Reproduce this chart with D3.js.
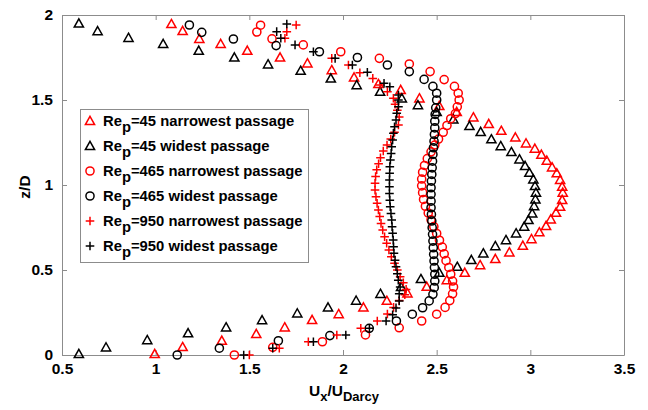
<!DOCTYPE html>
<html lang="en">
  <head>
    <meta charset="UTF-8" />
    <title>Velocity profiles</title>
    <script src="https://d3js.org/d3.v7.min.js"></script>
    <style>
      body {
        margin: 0;
        background: #fff;
      }
      * {
        font-family: "Liberation Sans", Arial, sans-serif;
      }
      .tick text {
        font-size: 15.5px;
        font-weight: bold;
        fill: #000;
      }
      .axis path,
      .axis line {
        stroke: #8c8c8c;
      }
      .legend-text {
        font-size: 14.8px;
        font-weight: bold;
      }
      .title {
        font-size: 15.5px;
        font-weight: bold;
      }
    </style>
  </head>
  <body></body>
  <script>
    // [U_x/U_Darcy, z/D]
    const re45Narrow = [
      [0.995, 0.006], [1.144, 0.047], [1.353, 0.084], [1.537, 0.124], [1.689, 0.163],
      [1.835, 0.206], [1.977, 0.241], [2.109, 0.28], [2.234, 0.319], [2.344, 0.363],
      [2.447, 0.402], [2.554, 0.441], [2.65, 0.484], [2.732, 0.529], [2.813, 0.565],
      [2.888, 0.604], [2.96, 0.643], [3.006, 0.682], [3.048, 0.722], [3.084, 0.759],
      [3.109, 0.798], [3.137, 0.837], [3.159, 0.872], [3.17, 0.912], [3.173, 0.955],
      [3.17, 0.99], [3.159, 1.03], [3.141, 1.069], [3.116, 1.104], [3.088, 1.143],
      [3.059, 1.178], [3.024, 1.214], [2.977, 1.245], [2.92, 1.28], [2.845, 1.319],
      [2.778, 1.359], [2.696, 1.398], [2.607, 1.43], [2.514, 1.465], [2.408, 1.51],
      [2.308, 1.559], [2.189, 1.594], [2.059, 1.633], [1.94, 1.676], [1.81, 1.716],
      [1.664, 1.75], [1.489, 1.79], [1.347, 1.83], [1.233, 1.86], [1.144, 1.906],
      [1.084, 1.947]
    ];
    const re45Wide = [
      [0.59, 0.006], [0.735, 0.045], [0.955, 0.088], [1.173, 0.128], [1.376, 0.163],
      [1.568, 0.205], [1.756, 0.245], [1.92, 0.28], [2.07, 0.32], [2.2, 0.36],
      [2.31, 0.4], [2.416, 0.447], [2.514, 0.484], [2.61, 0.519], [2.685, 0.559],
      [2.749, 0.598], [2.813, 0.641], [2.87, 0.676], [2.924, 0.716], [2.967, 0.755],
      [2.99, 0.794], [3.01, 0.833], [3.02, 0.876], [3.027, 0.916], [3.03, 0.955],
      [3.025, 0.994], [3.016, 1.033], [2.995, 1.072], [2.972, 1.112], [2.942, 1.151],
      [2.899, 1.194], [2.842, 1.229], [2.792, 1.269], [2.735, 1.312], [2.675, 1.347],
      [2.589, 1.386], [2.5, 1.43], [2.4, 1.47], [2.314, 1.51], [2.198, 1.549],
      [2.073, 1.588], [1.935, 1.627], [1.774, 1.672], [1.6, 1.71], [1.42, 1.75],
      [1.23, 1.79], [1.04, 1.83], [0.855, 1.866], [0.69, 1.905], [0.59, 1.95]
    ];
    const re465Narrow = [
      [1.42, 0.0], [1.625, 0.045], [1.89, 0.078], [2.12, 0.118], [2.3, 0.16],
      [2.42, 0.2], [2.5, 0.24], [2.545, 0.28], [2.57, 0.32], [2.585, 0.36],
      [2.59, 0.4], [2.585, 0.435], [2.575, 0.475], [2.565, 0.515], [2.55, 0.555],
      [2.54, 0.595], [2.53, 0.635], [2.515, 0.675], [2.5, 0.715], [2.485, 0.755],
      [2.47, 0.795], [2.455, 0.835], [2.44, 0.875], [2.43, 0.915], [2.425, 0.955],
      [2.42, 0.995], [2.42, 1.035], [2.425, 1.075], [2.435, 1.115], [2.45, 1.155],
      [2.47, 1.195], [2.49, 1.235], [2.51, 1.27], [2.535, 1.31], [2.555, 1.35],
      [2.575, 1.39], [2.6, 1.42], [2.61, 1.46], [2.62, 1.5], [2.615, 1.54],
      [2.595, 1.58], [2.54, 1.62], [2.465, 1.667], [2.354, 1.712], [2.194, 1.745],
      [1.988, 1.784], [1.788, 1.824], [1.621, 1.86], [1.54, 1.9], [1.56, 1.94]
    ];
    const re465Wide = [
      [1.115, 0.0], [1.34, 0.04], [1.655, 0.084], [1.93, 0.114], [2.14, 0.157],
      [2.285, 0.2], [2.37, 0.24], [2.425, 0.278], [2.46, 0.318], [2.48, 0.357],
      [2.487, 0.396], [2.49, 0.435], [2.49, 0.475], [2.488, 0.514], [2.486, 0.553],
      [2.484, 0.592], [2.482, 0.631], [2.48, 0.67], [2.478, 0.71], [2.476, 0.749],
      [2.474, 0.788], [2.472, 0.827], [2.47, 0.866], [2.47, 0.905], [2.47, 0.945],
      [2.47, 0.984], [2.472, 1.023], [2.474, 1.062], [2.476, 1.101], [2.478, 1.14],
      [2.48, 1.18], [2.483, 1.219], [2.486, 1.258], [2.488, 1.297], [2.49, 1.336],
      [2.49, 1.375], [2.492, 1.415], [2.495, 1.454], [2.5, 1.5], [2.5, 1.54],
      [2.48, 1.58], [2.433, 1.621], [2.354, 1.667], [2.237, 1.706], [2.077, 1.75],
      [1.874, 1.784], [1.643, 1.82], [1.415, 1.859], [1.246, 1.898], [1.18, 1.941]
    ];
    const re950Narrow = [
      [1.5, 0.0], [1.66, 0.04], [1.815, 0.078], [1.967, 0.118], [2.095, 0.157],
      [2.183, 0.2], [2.237, 0.241], [2.27, 0.28], [2.3, 0.32], [2.33, 0.355],
      [2.337, 0.386], [2.322, 0.425], [2.305, 0.46], [2.29, 0.5], [2.275, 0.539],
      [2.258, 0.578], [2.245, 0.618], [2.233, 0.657], [2.222, 0.696], [2.212, 0.735],
      [2.203, 0.774], [2.196, 0.814], [2.189, 0.853], [2.182, 0.892], [2.176, 0.931],
      [2.171, 0.97], [2.171, 1.01], [2.174, 1.05], [2.18, 1.09], [2.19, 1.125],
      [2.2, 1.16], [2.215, 1.2], [2.235, 1.235], [2.255, 1.27], [2.275, 1.31],
      [2.296, 1.353], [2.3, 1.4], [2.29, 1.44], [2.278, 1.475], [2.269, 1.51],
      [2.237, 1.549], [2.198, 1.588], [2.159, 1.627], [2.09, 1.66], [2.029, 1.706],
      [1.94, 1.745], [1.69, 1.863], [1.7, 1.902], [1.75, 1.941]
    ];
    const re950Wide = [
      [1.47, 0.0], [1.625, 0.04], [1.842, 0.078], [2.015, 0.118], [2.141, 0.157],
      [2.23, 0.2], [2.265, 0.237], [2.283, 0.277], [2.3, 0.318], [2.3, 0.36],
      [2.305, 0.4], [2.295, 0.44], [2.29, 0.478], [2.283, 0.519], [2.278, 0.558],
      [2.272, 0.598], [2.27, 0.637], [2.268, 0.676], [2.265, 0.716], [2.262, 0.755],
      [2.26, 0.794], [2.256, 0.833], [2.252, 0.872], [2.25, 0.911], [2.248, 0.95],
      [2.248, 0.99], [2.248, 1.03], [2.249, 1.069], [2.25, 1.108], [2.253, 1.147],
      [2.257, 1.186], [2.26, 1.225], [2.265, 1.265], [2.269, 1.304], [2.275, 1.343],
      [2.283, 1.383], [2.287, 1.422], [2.296, 1.461], [2.296, 1.5], [2.296, 1.529],
      [2.25, 1.578], [2.219, 1.598], [2.13, 1.663], [2.05, 1.706], [1.958, 1.745],
      [1.842, 1.784], [1.744, 1.824], [1.668, 1.863], [1.646, 1.902], [1.7, 1.947]
    ];

    const reNumbers = ["45", "45", "465", "465", "950", "950"];
    const passages = ["narrowest", "widest", "narrowest", "widest", "narrowest", "widest"];
    const markers = ["triangle", "triangle", "circle", "circle", "plus", "plus"];
    const colors = ["#ff0000", "#000000", "#ff0000", "#000000", "#ff0000", "#000000"];
    const seriesData = [re45Narrow, re45Wide, re465Narrow, re465Wide, re950Narrow, re950Wide];

    const xTicks = [0.5, 1, 1.5, 2, 2.5, 3, 3.5];
    const yTicks = [0, 0.5, 1, 1.5, 2];

    const width = 648,
      height = 410;
    const plotLeft = 62,
      plotRight = 624,
      plotTop = 15,
      plotBottom = 355;

    const x = d3.scaleLinear().domain([0.5, 3.5]).range([plotLeft, plotRight]);
    const y = d3.scaleLinear().domain([0, 2]).range([plotBottom, plotTop]);

    const svg = d3
      .select("body")
      .append("svg")
      .attr("width", width)
      .attr("height", height);

    // marker shapes, centred on 0,0
    function markerPath(kind) {
      if (kind === "triangle") return "M0,-4.6L4.6,3.6L-4.6,3.6Z";
      if (kind === "circle") return d3.symbol(d3.symbolCircle, 52)();
      return "M-4.3,0H4.3M0,-4.3V4.3";
    }

    // axes with inward ticks on all four sides
    const fmt = d3.format("");
    svg
      .append("g")
      .attr("class", "axis")
      .attr("transform", `translate(0,${plotBottom})`)
      .call(d3.axisBottom(x).tickValues(xTicks).tickFormat(fmt).tickSizeInner(-5).tickSizeOuter(0).tickPadding(8));
    svg
      .append("g")
      .attr("class", "axis")
      .attr("transform", `translate(0,${plotTop})`)
      .call(d3.axisTop(x).tickValues(xTicks).tickFormat("").tickSizeInner(-5).tickSizeOuter(0));
    svg
      .append("g")
      .attr("class", "axis")
      .attr("transform", `translate(${plotLeft},0)`)
      .call(d3.axisLeft(y).tickValues(yTicks).tickFormat(fmt).tickSizeInner(-5).tickSizeOuter(0).tickPadding(9));
    svg
      .append("g")
      .attr("class", "axis")
      .attr("transform", `translate(${plotRight},0)`)
      .call(d3.axisRight(y).tickValues(yTicks).tickFormat("").tickSizeInner(-5).tickSizeOuter(0));

    // data markers
    seriesData.forEach(function (data, i) {
      svg
        .append("g")
        .selectAll("path")
        .data(data)
        .enter()
        .append("path")
        .attr("d", markerPath(markers[i]))
        .attr("transform", (d) => `translate(${x(d[0])},${y(d[1])})`)
        .attr("fill", "none")
        .attr("stroke", colors[i])
        .attr("stroke-width", 1.5);
    });

    // legend
    const legend = svg.append("g");
    legend
      .append("rect")
      .attr("x", 80.5)
      .attr("y", 109.5)
      .attr("width", 228)
      .attr("height", 153)
      .attr("fill", "#fff")
      .attr("stroke", "#8c8c8c");

    reNumbers.forEach(function (re, i) {
      const cy = 121 + i * 25;
      legend
        .append("path")
        .attr("d", markerPath(markers[i]))
        .attr("transform", `translate(90,${cy})`)
        .attr("fill", "none")
        .attr("stroke", colors[i])
        .attr("stroke-width", 1.5);
      const t = legend
        .append("text")
        .attr("class", "legend-text")
        .attr("x", 103)
        .attr("y", cy + 5);
      t.append("tspan").text("Re");
      t.append("tspan").attr("dy", 6).text("p");
      t.append("tspan").attr("dy", -6).text(`=${re} ${passages[i]} passage`);
    });

    // axis titles
    const xt = svg
      .append("text")
      .attr("class", "title")
      .attr("x", 344)
      .attr("y", 396)
      .attr("text-anchor", "middle");
    xt.append("tspan").text("U");
    xt.append("tspan").attr("dy", 5).attr("font-size", 13).text("x");
    xt.append("tspan").attr("dy", -5).text("/U");
    xt.append("tspan").attr("dy", 5).attr("font-size", 13).text("Darcy");

    svg
      .append("text")
      .attr("class", "title")
      .attr("transform", "translate(30,187) rotate(-90)")
      .attr("text-anchor", "middle")
      .text("z/D");
  </script>
</html>
